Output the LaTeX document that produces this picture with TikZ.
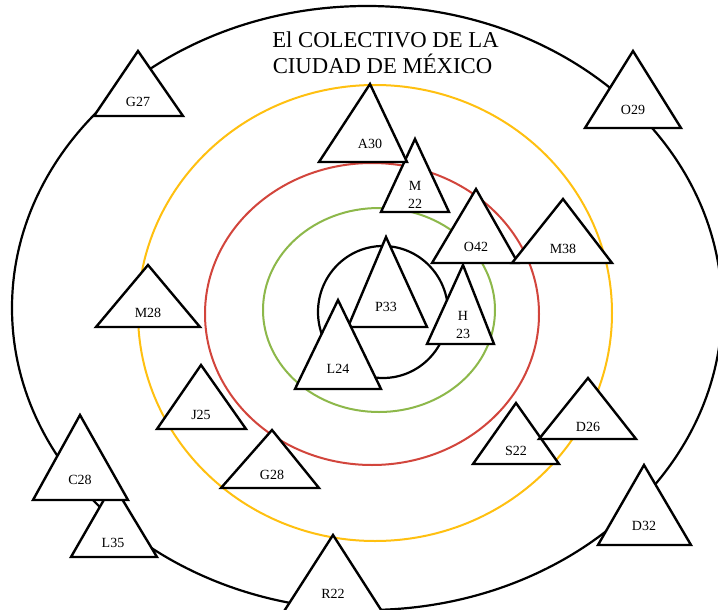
\documentclass[tikz,border=0pt]{standalone}
\usepackage{fontspec}
\setmainfont{Liberation Serif}
\definecolor{ringyellow}{HTML}{FFC010}
\definecolor{ringred}{HTML}{D2453C}
\definecolor{ringgreen}{HTML}{8DB84A}
\tikzset{
  tri/.style={draw=black,fill=white,line width=2.4pt,line join=miter,miter limit=20},
  lab/.style={font=\fontsize{14}{17.5}\selectfont,align=center,inner sep=0pt},
  ring/.style={line width=2pt},
  ttl/.style={font=\fontsize{22.7}{26}\selectfont,anchor=base,inner sep=0pt}
}
\newcommand\mytri[8]{%
  \draw[tri] (#2,#3) coordinate (#1-a) -- (#6,#4) coordinate (#1-r) -- (#5,#4) coordinate (#1-l) -- cycle;
  \node[lab] (#1) at (#2,#7) {#8};}
\begin{document}
\begin{tikzpicture}[x=1pt,y=-1pt]
\clip (0,0) rectangle (718,610);
\fill[white] (0,0) rectangle (718,610);
% rings
\draw[ring,black,line width=2.2pt] (367,308) ellipse [x radius=355,y radius=302];
\draw[ring,ringyellow] (375,313) ellipse [x radius=237,y radius=228];
\draw[ring,ringred] (372,314) ellipse [x radius=167,y radius=151];
\draw[ring,ringgreen] (379,310) ellipse [x radius=116,y radius=102];
\draw[ring,black,line width=2.2pt] (383,312) ellipse [x radius=65,y radius=66];
% title
\node[ttl] (t1) at (385.5,48) {El COLECTIVO DE LA};
\node[ttl] (t2) at (382.5,74) {CIUDAD DE MÉXICO};
% triangles
\mytri{g27}{138}{51}{116}{94}{183}{102}{G27}
\mytri{o29}{633}{51}{128}{585}{681}{110}{O29}
\mytri{m22}{415}{139}{212}{381}{449}{195}{M\\22}
\mytri{a30}{370}{84}{162}{319}{407}{144}{A30}
\mytri{h23}{463}{265}{344}{427}{494}{325}{H\\23}
\mytri{o42}{476}{189}{263}{432}{518}{247}{O42}
\mytri{m38}{563}{199}{263}{512}{612}{249}{M38}
\mytri{p33}{386}{237}{327}{348}{427}{307}{P33}
\mytri{l24}{338}{300}{389}{295}{381}{369}{L24}
\mytri{m28}{148}{265}{327}{96}{200}{313}{M28}
\mytri{j25}{201}{365}{429}{157}{246}{415}{J25}
\mytri{g28}{272}{430}{488}{221}{319}{475}{G28}
\mytri{l35}{113}{484}{557}{71}{157}{543}{L35}
\mytri{c28}{80}{415}{500}{33}{128}{480}{C28}
\mytri{r22}{333}{535}{616}{281}{385}{594}{R22}
\mytri{s22}{516}{403}{464}{473}{559}{451}{S22}
\mytri{d26}{588}{378}{439}{539}{636}{427}{D26}
\mytri{d32}{644}{465}{545}{598}{691}{526}{D32}
\end{tikzpicture}
\end{document}
